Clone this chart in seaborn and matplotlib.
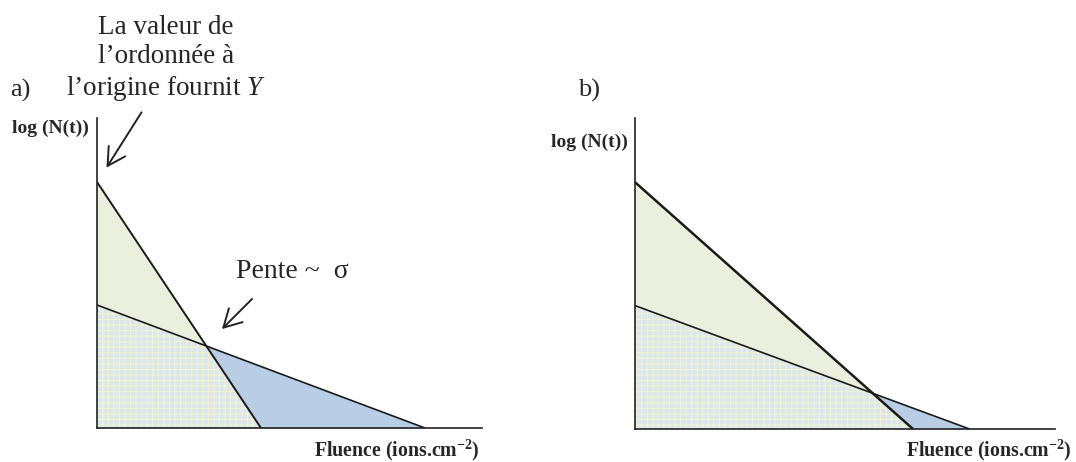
import numpy as np
import pandas as pd
import seaborn as sns
import matplotlib.pyplot as plt
import matplotlib as mpl

# droites : ordonnee a l'origine et abscisse a l'origine (unites arbitraires)
panels = ["a)", "b)"]
steep_y0 = [2.0, 2.0]
steep_x0 = [1.0, 1.695]
flat_y0 = [1.0, 1.0]
flat_x0 = [2.0, 2.04]
x_max = [2.348, 2.561]
y_max = 2.52

sns.set_style("white")
plt.rcParams['font.family'] = ['Liberation Serif', 'DejaVu Serif']
plt.rcParams['mathtext.fontset'] = 'custom'
plt.rcParams['mathtext.rm'] = 'Liberation Serif'
plt.rcParams['mathtext.it'] = 'Liberation Serif:italic'
plt.rcParams['mathtext.bf'] = 'Liberation Serif:bold'
mpl.rcParams['hatch.linewidth'] = 0.9

W, H = 1076, 462
fig = plt.figure(figsize=(W / 100, H / 100), dpi=100)

green = "#EBF0DE"
blue = "#B9CDE5"
dots = "#DCE6EC"

ax_px = [(97, 428, 385, 310), (635, 429, 420, 311)]

for i in range(2):
    left, bottom, w, h = ax_px[i]
    ax = fig.add_axes([left / W, (H - bottom) / H, w / W, h / H])
    x = np.linspace(0, x_max[i], 2000)
    s = np.clip(steep_y0[i] * (1 - x / steep_x0[i]), 0, None)
    f = np.clip(flat_y0[i] * (1 - x / flat_x0[i]), 0, None)
    lo = np.minimum(s, f)
    ax.fill_between(x, lo, s, where=s >= f, color=green, lw=0, interpolate=True)
    ax.fill_between(x, lo, f, where=f >= s, color=blue, lw=0, interpolate=True)
    ax.fill_between(x, 0, lo, facecolor=dots, edgecolor="#EEF2D6", hatch="+++", lw=0)

    d1 = pd.DataFrame({"x": [0, steep_x0[i]], "y": [steep_y0[i], 0]})
    d2 = pd.DataFrame({"x": [0, flat_x0[i]], "y": [flat_y0[i], 0]})
    sns.lineplot(data=d1, x="x", y="y", ax=ax, color="#1a1a1a", lw=1.4 if i == 0 else 1.8)
    sns.lineplot(data=d2, x="x", y="y", ax=ax, color="#1a1a1a", lw=1.2)

    ax.set_xlim(0, x_max[i])
    ax.set_ylim(0, y_max)
    ax.set_xticks([])
    ax.set_yticks([])
    ax.set_xlabel("")
    ax.set_ylabel("")
    for sp in ["top", "right"]:
        ax.spines[sp].set_visible(False)
    for sp in ["left", "bottom"]:
        ax.spines[sp].set_color("#222222")
        ax.spines[sp].set_linewidth(1.2)

# textes
def px(x, y):
    return x / W, 1 - y / H

fig.text(*px(10, 90), "a)", fontsize=19, va="center", ha="left")
fig.text(*px(578, 90), "b)", fontsize=19, va="center", ha="left")
fig.text(*px(166, 59),
         "La valeur de\nl\u2019ordonn\u00e9e \u00e0\nl\u2019origine fournit $\\mathit{Y}$",
         fontsize=19.5, ha="center", va="center", multialignment="center",
         linespacing=1.22)
fig.text(*px(12, 128), "log (N(t))", fontsize=14, fontweight="bold", va="center")
fig.text(*px(551, 142), "log (N(t))", fontsize=14, fontweight="bold", va="center")
fig.text(*px(236, 272), "Pente ~  \u03c3", fontsize=20, va="center")
fig.text(*px(314, 450), "Fluence (ions.cm$^{\\mathbf{-2}}$)", fontsize=14.3,
         fontweight="bold", va="center")
fig.text(*px(906, 450), "Fluence (ions.cm$^{\\mathbf{-2}}$)", fontsize=14.3,
         fontweight="bold", va="center")

arr = dict(arrowstyle="->,head_length=0.9,head_width=0.5", color="#222222",
           lw=1.4, mutation_scale=14)
fig.add_artist(mpl.patches.FancyArrowPatch(px(143, 110), px(105, 170),
                                           transform=fig.transFigure, **arr))
fig.add_artist(mpl.patches.FancyArrowPatch(px(254, 297), px(220, 331),
                                           transform=fig.transFigure, **arr))

fig.savefig("out.png", dpi=100, facecolor="white")
